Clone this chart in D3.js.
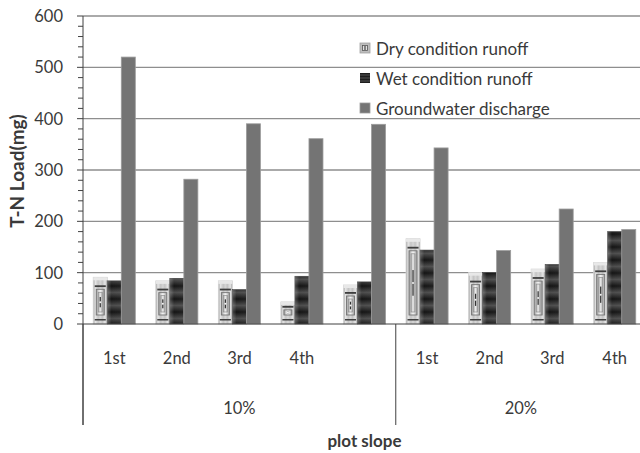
<!DOCTYPE html>
<html>
<head>
<meta charset="utf-8">
<script src="https://cdn.jsdelivr.net/npm/d3@7"></script>
<style>
  body { margin: 0; background: #fff; }
  text { font-family: Lato, "Open Sans", sans-serif; fill: #3a3a3a; }
</style>
</head>
<body>
<svg id="chart" width="640" height="453"></svg>
<script>
// ---- data ----
const eventLabels = ["1st", "2nd", "3rd", "4th", "", "1st", "2nd", "3rd", "4th"];
const eventSlope = ["10%", "10%", "10%", "10%", "10%", "20%", "20%", "20%", "20%"];
const slopeGroups = ["10%", "20%"];
const seriesNames = ["Dry condition runoff", "Wet condition runoff", "Groundwater discharge"];
const dryRunoff = [91, 84, 84, 43, 76, 166, 100, 107, 120];
const wetRunoff = [84, 89, 67, 93, 82, 144, 100, 116, 180];
const groundwater = [520, 282, 390, 361, 389, 343, 143, 224, 184];
const yTicks = [0, 100, 200, 300, 400, 500, 600];
const yMinorStep = 20;

const seriesValues = [dryRunoff, wetRunoff, groundwater];
const seriesKeys = ["dry", "wet", "gw"];

// ---- layout ----
const svg = d3.select("#chart");
const plot = { left: 83, right: 646, top: 16, bottom: 324 };
const catAxisBottom = 425;

const x = d3.scaleBand()
  .domain(d3.range(eventLabels.length))
  .range([plot.left, plot.right])
  .paddingInner(0).paddingOuter(0);

const xInner = d3.scaleBand()
  .domain(seriesKeys)
  .range([0, x.bandwidth()])
  .paddingInner(0).paddingOuter(0.73);

const y = d3.scaleLinear()
  .domain([d3.min(yTicks), d3.max(yTicks)])
  .range([plot.bottom, plot.top]);

// ---- fills ----
const defs = svg.append("defs");

function hGrad(id, stops) {
  const g = defs.append("linearGradient").attr("id", id)
    .attr("x1", 0).attr("y1", 0).attr("x2", 1).attr("y2", 0);
  stops.forEach(([o, c]) => g.append("stop").attr("offset", o).attr("stop-color", c));
}
hGrad("dryOuter", [[0, "#a2a2a2"], [0.15, "#e6e6e6"], [0.35, "#c4c4c4"], [0.5, "#d6d6d6"], [0.65, "#c4c4c4"], [0.85, "#e6e6e6"], [1, "#a2a2a2"]]);
hGrad("dryInner", [[0, "#959595"], [0.3, "#dadada"], [0.5, "#f4f4f4"], [0.7, "#dadada"], [1, "#959595"]]);
hGrad("dryCore", [[0, "#a8a8a8"], [0.5, "#ececec"], [1, "#a8a8a8"]]);
hGrad("wetSheen", [[0, "rgba(255,255,255,0.22)"], [0.3, "rgba(255,255,255,0)"], [1, "rgba(255,255,255,0.04)"]]);

const band = defs.append("linearGradient").attr("id", "wetBand")
  .attr("x1", 0).attr("y1", 0).attr("x2", 0).attr("y2", 1);
[[0, "#141414"], [0.5, "#4c4c4c"], [1, "#141414"]]
  .forEach(([o, c]) => band.append("stop").attr("offset", o).attr("stop-color", c));
defs.append("pattern").attr("id", "wetFill")
  .attr("patternUnits", "userSpaceOnUse").attr("width", 20).attr("height", 13)
  .append("rect").attr("width", 20).attr("height", 13).attr("fill", "url(#wetBand)");

// ---- gridlines ----
svg.append("g").selectAll("line")
  .data(yTicks.filter(t => t > 0))
  .join("line")
  .attr("x1", plot.left).attr("x2", plot.right)
  .attr("y1", d => y(d)).attr("y2", d => y(d))
  .attr("stroke", "#8e8e8e").attr("stroke-width", 1.3);

// ---- bars ----
function drawDry(g, bx, by, w, h) {
  g.append("rect").attr("x", bx).attr("y", by).attr("width", w).attr("height", h)
    .attr("fill", "url(#dryOuter)").attr("stroke", "#d4d4d4").attr("stroke-width", 0.8);
  g.append("rect").attr("x", bx).attr("y", by).attr("width", w).attr("height", Math.min(3, h))
    .attr("fill", "#e8e8e8");
  const topBand = Math.min(8, h * 0.18);
  g.append("rect").attr("x", bx + 1.5).attr("y", by + topBand).attr("width", w - 3).attr("height", 1.8)
    .attr("fill", "#3e3e3e");
  g.append("rect").attr("x", bx + 1.5).attr("y", by + h - 5).attr("width", w - 3).attr("height", 1.5)
    .attr("fill", "#3e3e3e");
  const iy = by + topBand + 4, ih = Math.max(2, h - topBand - 4 - 9);
  g.append("rect").attr("x", bx + 3).attr("y", iy).attr("width", w - 6).attr("height", ih)
    .attr("fill", "url(#dryInner)").attr("stroke", "#747474").attr("stroke-width", 0.9);
  if (ih > 8) {
    g.append("rect").attr("x", bx + 5).attr("y", iy + 3).attr("width", w - 10).attr("height", ih - 6)
      .attr("fill", "url(#dryCore)").attr("stroke", "#909090").attr("stroke-width", 0.7);
  }
  const cx = bx + w / 2, cy = iy + ih / 2, lh = ih * 0.4;
  g.append("rect").attr("x", cx - 0.6).attr("y", cy - lh / 2).attr("width", 1.2).attr("height", lh)
    .attr("fill", "#333");
  g.append("circle").attr("cx", cx).attr("cy", cy).attr("r", 1).attr("fill", "#f4f4f4");
}

const barsG = svg.append("g");
eventLabels.forEach((_, i) => {
  seriesKeys.forEach((key, s) => {
    const v = seriesValues[s][i];
    const bx = x(i) + xInner(key), w = xInner.bandwidth();
    const by = y(v), h = y(0) - y(v);
    const g = barsG.append("g");
    if (key === "dry") {
      drawDry(g, bx, by, w, h);
    } else if (key === "wet") {
      g.append("rect").attr("x", bx).attr("y", by).attr("width", w).attr("height", h)
        .attr("fill", "url(#wetFill)").attr("stroke", "#3a3a3a").attr("stroke-width", 0.6);
      g.append("rect").attr("x", bx).attr("y", by).attr("width", w).attr("height", h)
        .attr("fill", "url(#wetSheen)");
    } else {
      g.append("rect").attr("x", bx).attr("y", by).attr("width", w).attr("height", h)
        .attr("fill", "#747474").attr("stroke", "#9c9c9c").attr("stroke-width", 0.8);
    }
  });
});

// ---- value axis ----
const axisColor = "#404040";
const yAxisG = svg.append("g");
yAxisG.append("line")
  .attr("x1", plot.left).attr("x2", plot.left)
  .attr("y1", y(d3.max(yTicks))).attr("y2", catAxisBottom)
  .attr("stroke", axisColor);
yAxisG.selectAll(".minor")
  .data(d3.range(0, d3.max(yTicks) + 1, yMinorStep).filter(v => !yTicks.includes(v)))
  .join("line").attr("class", "minor")
  .attr("x1", plot.left - 5).attr("x2", plot.left)
  .attr("y1", d => y(d)).attr("y2", d => y(d))
  .attr("stroke", axisColor);
yAxisG.selectAll(".major")
  .data(yTicks)
  .join("line").attr("class", "major")
  .attr("x1", plot.left - 6).attr("x2", plot.left)
  .attr("y1", d => y(d)).attr("y2", d => y(d))
  .attr("stroke", axisColor);
yAxisG.selectAll("text")
  .data(yTicks)
  .join("text")
  .attr("x", plot.left - 20).attr("y", d => y(d))
  .attr("text-anchor", "end").attr("dominant-baseline", "central")
  .attr("font-size", 16.5)
  .text(d => d);

svg.append("text")
  .attr("transform", `translate(16,${(plot.top + plot.bottom) / 2 + 1}) rotate(-90)`)
  .attr("text-anchor", "middle").attr("dominant-baseline", "central")
  .attr("font-size", 19).attr("font-weight", "bold")
  .text("T-N Load(mg)");

// ---- category axis ----
svg.append("line")
  .attr("x1", plot.left).attr("x2", plot.right)
  .attr("y1", y(0)).attr("y2", y(0))
  .attr("stroke", axisColor);

svg.append("g").selectAll("text")
  .data(eventLabels)
  .join("text")
  .attr("x", (d, i) => x(i) + x.bandwidth() / 2)
  .attr("y", 358)
  .attr("text-anchor", "middle").attr("dominant-baseline", "central")
  .attr("font-size", 16.5)
  .text(d => d);

slopeGroups.forEach(grp => {
  const idx = eventSlope.map((s, i) => s === grp ? i : -1).filter(i => i >= 0);
  const x0 = x(d3.min(idx)), x1 = x(d3.max(idx)) + x.bandwidth();
  svg.append("line")
    .attr("x1", x0).attr("x2", x0).attr("y1", y(0)).attr("y2", catAxisBottom)
    .attr("stroke", axisColor);
  svg.append("text")
    .attr("x", (x0 + x1) / 2).attr("y", 408)
    .attr("text-anchor", "middle").attr("dominant-baseline", "central")
    .attr("font-size", 16.5)
    .text(grp);
});

svg.append("text")
  .attr("x", (plot.left + plot.right) / 2).attr("y", 440)
  .attr("text-anchor", "middle").attr("dominant-baseline", "central")
  .attr("font-size", 17).attr("font-weight", "bold")
  .text("plot slope");

// ---- legend ----
const legend = svg.append("g").attr("transform", "translate(360,48)");
seriesKeys.forEach((key, s) => {
  const row = legend.append("g").attr("transform", `translate(0,${s * 30})`);
  if (key === "dry") {
    row.append("rect").attr("x", 0).attr("y", -5).attr("width", 10).attr("height", 10)
      .attr("fill", "#bdbdbd").attr("stroke", "#a0a0a0").attr("stroke-width", 0.8);
    row.append("rect").attr("x", 2.5).attr("y", -2.5).attr("width", 5).attr("height", 5)
      .attr("fill", "#e0e0e0").attr("stroke", "#555").attr("stroke-width", 0.8);
    row.append("rect").attr("x", 4.4).attr("y", -2).attr("width", 1.2).attr("height", 4)
      .attr("fill", "#444");
  } else if (key === "wet") {
    row.append("rect").attr("x", 0).attr("y", -5).attr("width", 10).attr("height", 10)
      .attr("fill", "#1e1e1e");
    [-3, 0, 3].forEach(o => row.append("rect").attr("x", 0).attr("y", o - 0.5)
      .attr("width", 10).attr("height", 1).attr("fill", "#555"));
  } else {
    row.append("rect").attr("x", 0).attr("y", -5).attr("width", 10).attr("height", 10)
      .attr("fill", "#747474").attr("stroke", "#9c9c9c").attr("stroke-width", 0.8);
  }
  row.append("text")
    .attr("x", 16).attr("y", 0)
    .attr("dominant-baseline", "central")
    .attr("font-size", 17)
    .text(seriesNames[s]);
});
</script>
</body>
</html>
